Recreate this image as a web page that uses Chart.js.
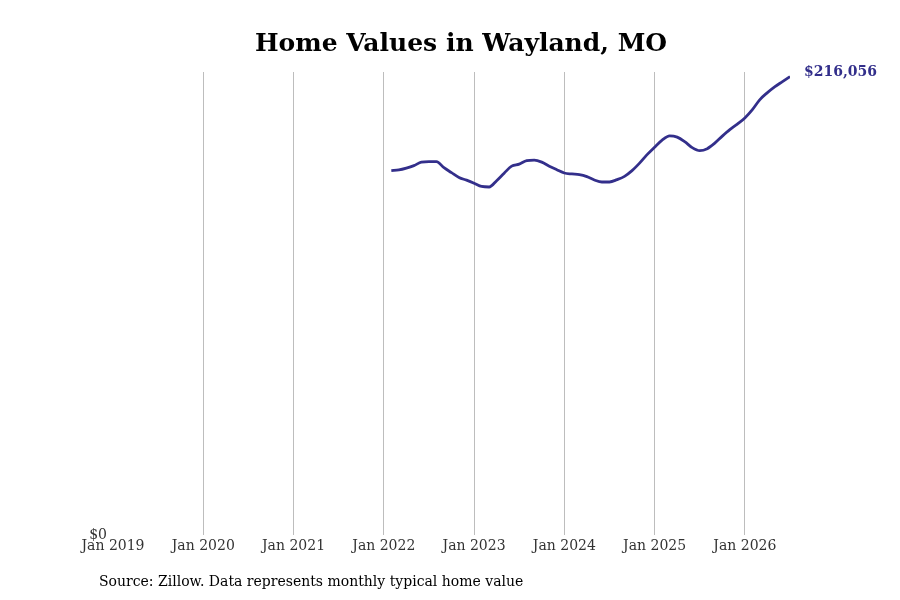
<!DOCTYPE html>
<html>
<head>
<meta charset="utf-8">
<script src="https://cdn.jsdelivr.net/npm/chart.js@4.4.0/dist/chart.umd.min.js"></script>
<style>
    html, body { margin: 0; padding: 0; background: #fff; }
    canvas { display: block; }
</style>
</head>
<body>
<canvas id="homeValuesChart" width="900" height="600"></canvas>
<script>
// monthly typical home value, Wayland MO
const months = [
    "2022-02", "2022-03", "2022-04", "2022-05", "2022-06", "2022-07", "2022-08", "2022-09",
    "2022-10", "2022-11", "2022-12", "2023-01", "2023-02", "2023-03", "2023-04", "2023-05",
    "2023-06", "2023-07", "2023-08", "2023-09", "2023-10", "2023-11", "2023-12", "2024-01",
    "2024-02", "2024-03", "2024-04", "2024-05", "2024-06", "2024-07", "2024-08", "2024-09",
    "2024-10", "2024-11", "2024-12", "2025-01", "2025-02", "2025-03", "2025-04", "2025-05",
    "2025-06", "2025-07", "2025-08", "2025-09", "2025-10", "2025-11", "2025-12", "2026-01",
    "2026-02", "2026-03", "2026-04", "2026-05", "2026-06", "2026-07"
];
const homeValues = [
    171713, 172044, 172893, 174072, 175723, 175959, 175959, 173129,
    170770, 168506, 167232, 165817, 164260, 164024, 166996, 170534,
    173836, 174779, 176431, 176667, 175723, 173836, 172185, 170628,
    170157, 169826, 168883, 167326, 166383, 166383, 167468, 169024,
    171713, 175251, 179261, 182799, 186101, 188083, 187517, 185394,
    182563, 181148, 182092, 184686, 187988, 191055, 193649, 196574,
    200490, 205207, 208509, 211340, 213698, 216056
];
const tickLabels = ["Jan 2019", "Jan 2020", "Jan 2021", "Jan 2022", "Jan 2023", "Jan 2024", "Jan 2025", "Jan 2026"];
const firstYear = 2019;

const lineColor = "#332f8b";
const serif = "'DejaVu Serif', serif";

function monthIndex(ym) {
    const [y, m] = ym.split("-").map(Number);
    return (y - firstYear) * 12 + (m - 1);
}

const points = months.map((m, i) => ({ x: monthIndex(m), y: homeValues[i] }));
const lastValue = homeValues[homeValues.length - 1];

const extrasPlugin = {
    id: "extras",
    afterDraw(chart) {
        const ctx = chart.ctx;
        ctx.save();

        ctx.fillStyle = "#000";
        ctx.font = "bold 25px " + serif;
        ctx.textAlign = "center";
        ctx.textBaseline = "middle";
        ctx.fillText("Home Values in Wayland, MO", 461, 44);

        ctx.font = "14px " + serif;
        ctx.textAlign = "left";
        ctx.fillText("Source: Zillow. Data represents monthly typical home value", 99, 582);

        const meta = chart.getDatasetMeta(0);
        const last = meta.data[meta.data.length - 1];
        ctx.fillStyle = lineColor;
        ctx.font = "bold 14px " + serif;
        ctx.fillText("$" + lastValue.toLocaleString("en-US"), last.x + 14, last.y - 4);

        ctx.restore();
    }
};

const ctx = document.getElementById("homeValuesChart").getContext("2d");
new Chart(ctx, {
    type: "line",
    data: {
        datasets: [{
            data: points,
            borderColor: lineColor,
            backgroundColor: "transparent",
            borderWidth: 2.8,
            fill: false,
            tension: 0.4,
            cubicInterpolationMode: "monotone",
            pointRadius: 0
        }]
    },
    options: {
        responsive: false,
        animation: false,
        devicePixelRatio: 1,
        layout: { padding: { top: 72, right: 110, bottom: 0, left: 0 } },
        scales: {
            x: {
                type: "linear",
                min: 0,
                max: monthIndex(months[months.length - 1]),
                afterBuildTicks: (scale) => {
                    scale.ticks = tickLabels.map((_, i) => ({ value: i * 12 }));
                },
                afterFit: (scale) => { scale.height = 65; },
                border: { display: false },
                grid: {
                    drawTicks: false,
                    color: (c) => c.tick && c.tick.value === 0 ? "rgba(0,0,0,0)" : "#bdbdbd",
                    lineWidth: 1
                },
                ticks: {
                    padding: 3,
                    color: "#333",
                    font: { family: serif, size: 14 },
                    maxRotation: 0,
                    autoSkip: false,
                    callback: (v) => tickLabels[v / 12]
                }
            },
            y: {
                min: 0,
                max: Math.round(lastValue * 1.01),
                afterBuildTicks: (scale) => { scale.ticks = [{ value: 0 }]; },
                afterFit: (scale) => { scale.width = 113; },
                border: { display: false },
                grid: { display: false, drawTicks: false, tickLength: 0 },
                ticks: {
                    padding: 6,
                    color: "#333",
                    font: { family: serif, size: 14 },
                    callback: (v) => "$" + v
                }
            }
        },
        plugins: {
            legend: { display: false },
            tooltip: { enabled: false }
        }
    },
    plugins: [extrasPlugin]
});
</script>
</body>
</html>
